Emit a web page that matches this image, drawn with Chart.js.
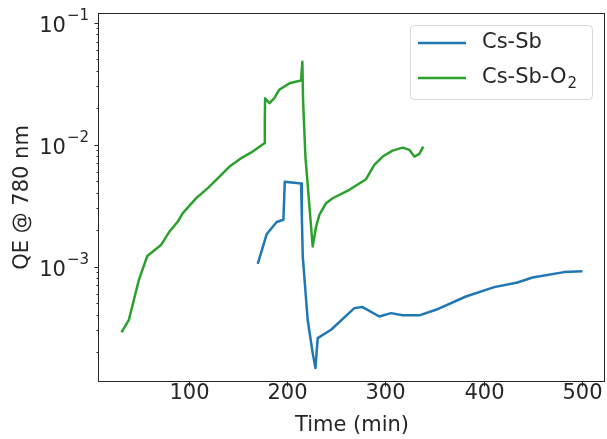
<!DOCTYPE html>
<html>
<head>
<meta charset="utf-8">
<script src="https://cdn.jsdelivr.net/npm/chart.js@4.4.0/dist/chart.umd.min.js"></script>
<style>
  html, body { margin: 0; padding: 0; background: #fff; }
  #wrap { width: 607px; height: 439px; }
</style>
</head>
<body>
<div id="wrap"><canvas id="qe-chart" width="607" height="439"></canvas></div>
<script>
// values
const csSbTime = [170.1, 179.3, 189.4, 196.2, 197.6, 214.2, 215.0, 215.9, 220.9, 226.0, 228.8, 231.1,
    244.7, 268.4, 276.8, 293.8, 305.7, 317.5, 334.5, 351.4, 381.9, 410.7, 434.4, 449.6, 481.8, 500.4];
const csSbQE = [1.05e-3, 1.85e-3, 2.32e-3, 2.42e-3, 4.95e-3, 4.80e-3, 2.51e-3, 1.21e-3, 3.66e-4, 1.95e-4, 1.47e-4, 2.59e-4,
    3.03e-4, 4.56e-4, 4.65e-4, 3.89e-4, 4.15e-4, 3.98e-4, 3.98e-4, 4.42e-4, 5.68e-4, 6.78e-4, 7.40e-4, 8.13e-4, 9.00e-4, 9.16e-4];

const csSbO2Time = [31.5, 39.0, 49.2, 57.7, 72.0, 80.4, 88.8, 93.9, 107.5, 119.3, 131.2, 141.4, 153.2, 165.0, 176.9,
    177.3, 177.6, 182.0, 187.0, 192.0, 202.3, 214.2, 215.5, 216.2, 218.6, 226.0, 229.5, 232.8, 239.6, 246.3,
    263.3, 280.3, 288.7, 297.2, 307.3, 317.5, 324.3, 329.4, 334.5, 338.5];
const csSbO2QE = [2.88e-4, 3.66e-4, 7.78e-4, 1.22e-3, 1.51e-3, 1.94e-3, 2.34e-3, 2.74e-3, 3.64e-3, 4.40e-3, 5.47e-3, 6.61e-3, 7.74e-3, 8.77e-3, 1.026e-2,
    1.585e-2, 2.40e-2, 2.19e-2, 2.40e-2, 2.82e-2, 3.18e-2, 3.35e-2, 4.79e-2, 2.32e-2, 7.98e-3, 1.46e-3, 2.13e-3, 2.65e-3, 3.31e-3, 3.63e-3,
    4.26e-3, 5.20e-3, 6.82e-3, 7.98e-3, 8.93e-3, 9.44e-3, 9.06e-3, 7.98e-3, 8.39e-3, 9.64e-3];

const seriesLabels = ['Cs-Sb', 'Cs-Sb-O2'];
const seriesColors = ['#1f77b4', '#2ca02c'];

const xTicks = [100, 200, 300, 400, 500];
const yMajorExponents = [-3, -2, -1];
const yMinorMantissas = [2, 3, 4, 5, 6, 7, 8, 9];

const X_MIN = 8.6, X_MAX = 523.4;
const Y_MIN = 1.13e-4, Y_MAX = 0.12;

const INK = '#262626';
const FONT = '"DejaVu Sans", sans-serif';

const toPoints = (xs, ys) => xs.map((x, i) => ({ x, y: ys[i] }));

// draws box, ticks, labels, titles and legend in matplotlib fashion
const axesDecor = {
    id: 'axesDecor',
    afterDraw(chart) {
        const { ctx, chartArea: a, scales } = chart;
        const xs = scales.x, ys = scales.y;
        ctx.save();
        ctx.strokeStyle = INK;
        ctx.fillStyle = INK;
        ctx.lineWidth = 1;

        // spines
        ctx.strokeRect(Math.round(a.left) - 0.5, Math.round(a.top) + 0.5,
            Math.round(a.right - a.left), Math.round(a.bottom - a.top) - 1);

        // x ticks
        ctx.font = `21px ${FONT}`;
        ctx.textAlign = 'center';
        ctx.textBaseline = 'middle';
        xTicks.forEach(v => {
            const px = Math.round(xs.getPixelForValue(v)) + 0.5;
            ctx.beginPath();
            ctx.moveTo(px, a.bottom);
            ctx.lineTo(px, a.bottom + 4.5);
            ctx.stroke();
            ctx.fillText(String(v), px, a.bottom + 11.5);
        });

        // y ticks (log)
        const drawYTick = (v, len) => {
            const py = Math.round(ys.getPixelForValue(v)) + 0.5;
            ctx.beginPath();
            ctx.moveTo(a.left - len, py);
            ctx.lineTo(a.left, py);
            ctx.stroke();
            return py;
        };
        for (let e = -4; e <= -1; e++) {
            yMinorMantissas.forEach(m => {
                const v = m * Math.pow(10, e);
                if (v > Y_MIN && v < Y_MAX) drawYTick(v, 2.5);
            });
        }
        yMajorExponents.forEach(e => {
            const py = drawYTick(Math.pow(10, e), 4.5);
            const sup = '\u2212' + Math.abs(e);
            ctx.font = `15px ${FONT}`;
            const supW = ctx.measureText(sup).width;
            const right = a.left - 10;
            ctx.textAlign = 'right';
            ctx.textBaseline = 'alphabetic';
            ctx.fillText(sup, right, py - 4);
            ctx.font = `21px ${FONT}`;
            ctx.fillText('10', right - supW - 1, py + 8.5);
        });

        // axis titles
        ctx.font = `21px ${FONT}`;
        ctx.textAlign = 'center';
        ctx.textBaseline = 'middle';
        ctx.fillText('Time (min)', (a.left + a.right) / 2, 426);
        ctx.save();
        ctx.translate(23, (a.top + a.bottom) / 2);
        ctx.rotate(-Math.PI / 2);
        ctx.fillText('QE @ 780 nm', 0, 0);
        ctx.restore();

        // legend
        const lx = 410.5, ly = 25.5, lw = 182, lh = 74, r = 4;
        ctx.beginPath();
        ctx.moveTo(lx + r, ly);
        ctx.arcTo(lx + lw, ly, lx + lw, ly + lh, r);
        ctx.arcTo(lx + lw, ly + lh, lx, ly + lh, r);
        ctx.arcTo(lx, ly + lh, lx, ly, r);
        ctx.arcTo(lx, ly, lx + lw, ly, r);
        ctx.closePath();
        ctx.fillStyle = 'rgba(255,255,255,0.8)';
        ctx.fill();
        ctx.strokeStyle = '#d6d6d6';
        ctx.stroke();

        chart.data.datasets.forEach((ds, i) => {
            const rowY = 43 + i * 35;
            ctx.strokeStyle = ds.borderColor;
            ctx.lineWidth = 2.5;
            ctx.beginPath();
            ctx.moveTo(418, rowY);
            ctx.lineTo(466, rowY);
            ctx.stroke();
            ctx.fillStyle = INK;
            ctx.textAlign = 'left';
            ctx.textBaseline = 'middle';
            ctx.font = `21px ${FONT}`;
            const label = ds.label;
            const m = label.match(/^(.*O)(\d)$/);
            if (m) {
                ctx.fillText(m[1], 482, rowY);
                const w = ctx.measureText(m[1]).width;
                ctx.font = `15px ${FONT}`;
                ctx.fillText(m[2], 482 + w + 1, rowY + 6);
            } else {
                ctx.fillText(label, 482, rowY);
            }
        });
        ctx.restore();
    }
};

const lineStyle = color => ({
    borderColor: color,
    backgroundColor: color,
    borderWidth: 2.5,
    pointRadius: 0,
    tension: 0,
    fill: false,
    borderJoinStyle: 'round',
    borderCapStyle: 'butt'
});

new Chart(document.getElementById('qe-chart'), {
    type: 'line',
    data: {
        datasets: [
            { label: seriesLabels[0], data: toPoints(csSbTime, csSbQE), ...lineStyle(seriesColors[0]) },
            { label: seriesLabels[1], data: toPoints(csSbO2Time, csSbO2QE), ...lineStyle(seriesColors[1]) }
        ]
    },
    options: {
        responsive: false,
        animation: false,
        parsing: true,
        layout: { padding: { left: 0, right: 2, top: 13, bottom: 0 } },
        plugins: {
            legend: { display: false },
            tooltip: { enabled: false }
        },
        scales: {
            x: {
                type: 'linear',
                min: X_MIN,
                max: X_MAX,
                grid: { display: false },
                border: { display: false },
                ticks: { display: false },
                afterFit: s => { s.height = 57; }
            },
            y: {
                type: 'logarithmic',
                min: Y_MIN,
                max: Y_MAX,
                grid: { display: false },
                border: { display: false },
                ticks: { display: false },
                afterFit: s => { s.width = 99; }
            }
        }
    },
    plugins: [axesDecor]
});
</script>
</body>
</html>
